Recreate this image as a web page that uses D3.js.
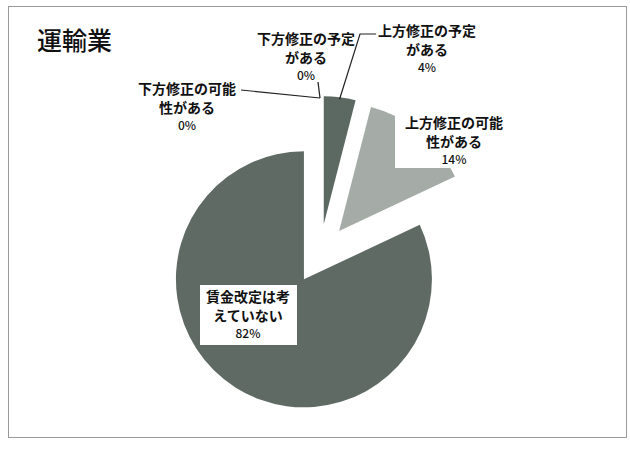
<!DOCTYPE html>
<html>
<head>
<meta charset="utf-8">
<script src="https://cdn.jsdelivr.net/npm/d3@7"></script>
<style>
  body { margin: 0; background: #fff; }
  svg { display: block; }
  text { font-family: "Noto Sans CJK JP", "Noto Sans", sans-serif; fill: #111; }
</style>
</head>
<body>
<div id="chart"></div>
<script>
// data
var title = "運輸業";
var categories = ["上方修正の予定がある", "上方修正の可能性がある", "賃金改定は考えていない", "下方修正の可能性がある", "下方修正の予定がある"];
var values = [4, 14, 82, 0, 0];
// how each category label wraps in the picture
var labelLines = [["上方修正の予定", "がある"], ["上方修正の可能", "性がある"], ["賃金改定は考", "えていない"], ["下方修正の可能", "性がある"], ["下方修正の予定", "がある"]];

var colors = ["#5b6962", "#a5aca7", "#5f6a65", "#5f6a65", "#5f6a65"];

var W = 630, H = 454;
var cx = 320, cy = 254, R = 128, explode = 30;

// label placement (center x, first line y, leader start points / white box)
var labelPos = [
  {x: 427, y: 30, leader: [[376, 34], [360, 34]]},
  {x: 454, y: 122, box: [395, 108, 115, 60]},
  {x: 248, y: 296, box: [200, 285, 97, 60]},
  {x: 187, y: 88, leader: [[241, 90]]},
  {x: 306, y: 38, leader: [[318, 82]]}
];

var svg = d3.select("#chart").append("svg")
    .attr("width", W).attr("height", H);

svg.append("rect").attr("width", W).attr("height", H).attr("fill", "#fff");

// chart frame
svg.append("rect")
   .attr("x", 8.5).attr("y", 6.5)
   .attr("width", 618).attr("height", 431)
   .attr("fill", "none").attr("stroke", "#9a9a9a").attr("stroke-width", 1);

svg.append("text")
   .attr("x", 37).attr("y", 50)
   .style("font-size", "25px").style("font-weight", "500")
   .text(title);

var pie = d3.pie().sort(null).value(function(d){ return d; });
var arcs = pie(values);
var arc = d3.arc().innerRadius(0).outerRadius(R);

function midAngle(d){ return (d.startAngle + d.endAngle) / 2; }
function shift(d){
  var a = midAngle(d);
  return [explode * Math.sin(a), -explode * Math.cos(a)];
}

var g = svg.append("g").attr("transform", "translate(" + cx + "," + cy + ")");

g.selectAll("path.slice").data(arcs)
 .enter().append("path")
 .attr("class", "slice")
 .attr("d", arc)
 .attr("fill", function(d, i){ return colors[i]; })
 .attr("transform", function(d){ var s = shift(d); return "translate(" + s[0] + "," + s[1] + ")"; });

// leader lines go to the outer edge of each exploded slice
arcs.forEach(function(d, i){
  var p = labelPos[i];
  if (!p.leader) return;
  var a = midAngle(d), s = shift(d);
  var end = [cx + s[0] + (R - 2) * Math.sin(a), cy + s[1] - (R - 2) * Math.cos(a)];
  svg.append("path")
     .attr("d", d3.line()(p.leader.concat([end])))
     .attr("fill", "none").attr("stroke", "#222").attr("stroke-width", 1.2);
});

// data labels
var lab = svg.selectAll("g.lab").data(arcs).enter().append("g").attr("class", "lab");

lab.each(function(d, i){
  var p = labelPos[i], el = d3.select(this);
  if (p.box) {
    el.append("rect")
      .attr("x", p.box[0]).attr("y", p.box[1])
      .attr("width", p.box[2]).attr("height", p.box[3])
      .attr("fill", "#fff");
  }
  labelLines[i].forEach(function(t, k){
    el.append("text")
      .attr("x", p.x).attr("y", p.y + k * 18.5)
      .attr("text-anchor", "middle").attr("dominant-baseline", "central")
      .style("font-size", "14px").style("font-weight", "bold")
      .text(t);
  });
  el.append("text")
    .attr("x", p.x).attr("y", p.y + 2 * 18.5 - 1)
    .attr("text-anchor", "middle").attr("dominant-baseline", "central")
    .style("font-size", "12px").style("font-weight", "500")
    .text(d3.format(".0%")(d.data / 100));
});
</script>
</body>
</html>
